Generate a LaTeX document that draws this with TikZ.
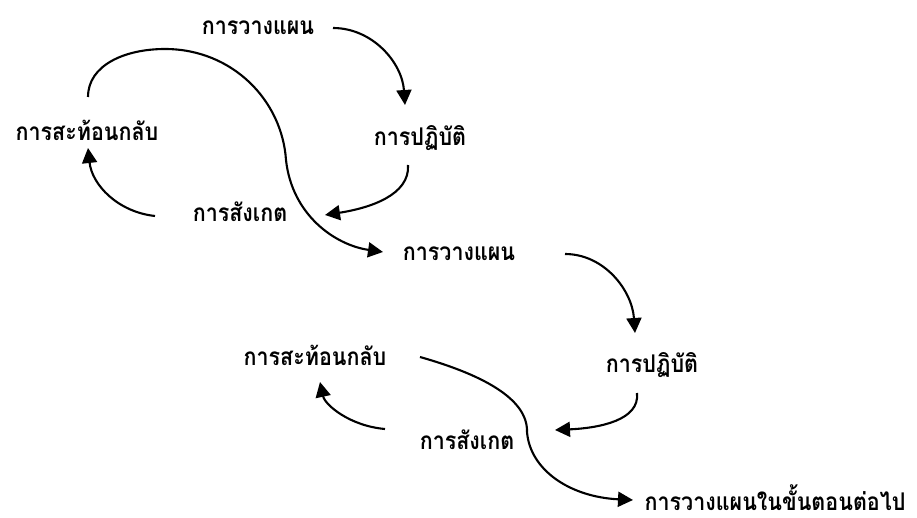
\documentclass[tikz,border=0pt]{standalone}
\usepackage{fontspec}
\setmainfont[Script=Thai,FakeStretch=0.88]{Loma}
\usetikzlibrary{arrows.meta}
\begin{document}
\begin{tikzpicture}[x=1pt,y=-1pt,
  lbl/.style={font=\fontsize{24.4}{26}\selectfont\bfseries, inner sep=0pt},
  arr/.style={line width=2.1pt, -{Triangle[length=15pt,width=15pt]}},
  ln/.style={line width=2.1pt}]
\useasboundingbox (0,0) rectangle (917,518);
% cycle 1
\node[lbl] (plan1) at (258,28) {การวางแผน};
\node[lbl] (act1) at (420,138) {การปฏิบัติ};
\node[lbl] (refl1) at (87,130) {การสะท้อนกลับ};
\node[lbl] (obs1) at (240,212) {การสังเกต};
% cycle 2
\node[lbl] (plan2) at (459,254) {การวางแผน};
\node[lbl] (act2) at (652,365) {การปฏิบัติ};
\node[lbl] (refl2) at (315,355) {การสะท้อนกลับ};
\node[lbl] (obs2) at (467,440) {การสังเกต};
\node[lbl] (plan3) at (775,498) {การวางแผนในขั้นตอนต่อไป};
% connector ends
\coordinate (s1) at (333,28);  \coordinate (e1) at (405,105);
\coordinate (s2) at (408,165); \coordinate (e2) at (325,215);
\coordinate (s3) at (155,216); \coordinate (e3) at (88,148);
\coordinate (s4) at (88,97);   \coordinate (e4) at (383,252);
\coordinate (s5) at (565,254); \coordinate (e5) at (635,333);
\coordinate (s6) at (637,393); \coordinate (e6) at (555,430);
\coordinate (s7) at (385,429); \coordinate (e7) at (320,382);
\coordinate (s8) at (420,357); \coordinate (e8) at (633,500);
% arrows
\draw[arr] (s1) .. controls (372,28) and (402,62) .. (e1);
\draw[arr] (s2) .. controls (410,195) and (370,208) .. (e2);
\draw[arr] (s3) .. controls (118,212) and (92,185) .. (e3);
\draw[arr] (s4) .. controls (88,65) and (125,49) .. (165,49)
  .. controls (232,49) and (282,100) .. (286,160)
  .. controls (292,215) and (335,245) .. (e4);
\draw[arr] (s5) .. controls (604,254) and (632,290) .. (e5);
\draw[arr] (s6) .. controls (640,420) and (600,428) .. (e6);
\draw[arr] (s7) .. controls (350,426) and (325,405) .. (e7);
\draw[arr] (s8) .. controls (480,374) and (528,398) .. (527,432)
  .. controls (530,470) and (570,497) .. (e8);
\end{tikzpicture}
\end{document}
